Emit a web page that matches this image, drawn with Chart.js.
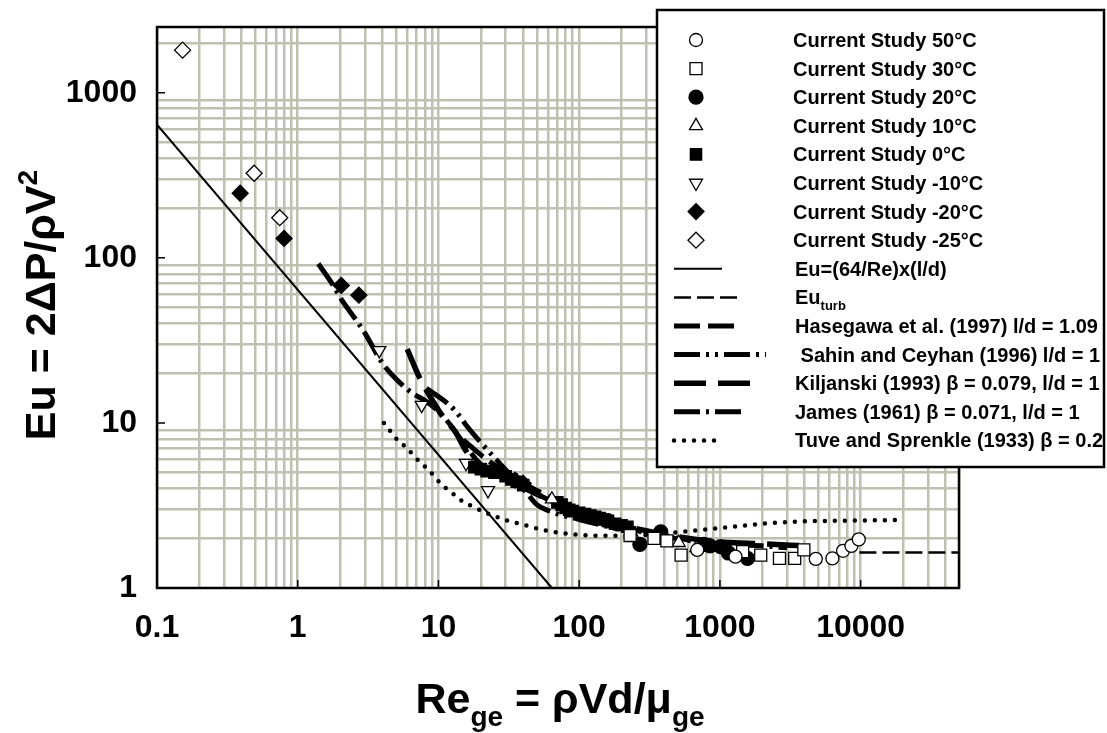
<!DOCTYPE html>
<html>
<head>
<meta charset="utf-8">
<script src="https://cdn.jsdelivr.net/npm/chart.js@4.4.1/dist/chart.umd.min.js"></script>
<style>
  html, body { margin: 0; padding: 0; background: #fff; }
  #wrap { width: 1107px; height: 733px; }
</style>
</head>
<body>
<div id="wrap"><canvas id="myChart" width="1107" height="733"></canvas></div>
<script>
const FONT = "'Liberation Sans', Arial, sans-serif";
const GRID = "#c0c0b2";

// axis tick labels (decades only)
const xTickValues = [0.1, 1, 10, 100, 1000, 10000];
const xTickLabels = ["0.1", "1", "10", "100", "1000", "10000"];
const yTickValues = [1, 10, 100, 1000];
const yTickLabels = ["1", "10", "100", "1000"];

const xTitle = "Re_{ge} = ρVd/μ_{ge}";
const yTitle = "Eu = 2ΔP/ρV^{2}";

// current study, one pair of arrays per temperature
const re50 = [690, 1290, 4800, 6300, 7500, 8600, 9700];
const eu50 = [1.7, 1.55, 1.5, 1.51, 1.68, 1.8, 1.97];
const re30 = [230, 340, 420, 530, 1450, 1950, 2650, 3400, 3950];
const eu30 = [2.08, 2.0, 1.93, 1.58, 1.66, 1.58, 1.51, 1.51, 1.7];
const re20 = [110, 160, 270, 380, 770, 850, 1010, 1150, 1570];
const eu20 = [2.75, 2.55, 1.84, 2.19, 1.84, 1.8, 1.78, 1.63, 1.51];
const re10 = [64, 240, 410, 510, 680];
const eu10 = [3.45, 2.1, 2.0, 1.88, 1.75];
const re0 = [18, 20, 22, 25, 30, 33, 36, 40, 70, 75, 80, 85, 90, 100, 110, 120, 130, 140, 150, 160, 180, 200, 220];
const eu0 = [5.4, 5.25, 5.1, 5.0, 4.75, 4.55, 4.4, 4.2, 3.3, 3.2, 3.05, 2.98, 2.92, 2.85, 2.8, 2.75, 2.7, 2.65, 2.6, 2.55, 2.45, 2.4, 2.35];
const reM10 = [3.8, 7.6, 15.7, 22.5];
const euM10 = [27.5, 12.8, 5.7, 3.9];
const reM20 = [0.39, 0.8, 2.04, 2.72, 35, 40];
const euM20 = [246, 131, 68, 59.4, 4.5, 4.3];
const reM25 = [0.152, 0.49, 0.745];
const euM25 = [1810, 325, 175];

// correlations from the literature
const lamRe = [0.1, 64];
const lamEu = [640, 1];
const turbRe = [9800, 50000];
const turbEu = [1.64, 1.64];
const hasRe = [15, 20, 30, 50, 80, 150, 300, 600];
const hasEu = [7.9, 6.4, 5.0, 3.9, 3.2, 2.6, 2.2, 1.95];
const sahinRe = [8.2, 12, 14, 16, 20, 30, 42, 50, 60, 100, 200];
const sahinEu = [16.2, 12.8, 11.1, 9.5, 7.6, 5.2, 3.8, 3.2, 2.95, 2.6, 2.25];
const kilRe = [6.0, 7.3, 8.7, 11, 13, 16, 20, 30, 50, 100, 200, 500, 1000, 2000, 4000];
const kilEu = [28, 19, 14.5, 10.6, 9.0, 6.6, 5.4, 4.6, 3.7, 2.85, 2.4, 2.05, 1.9, 1.85, 1.8];
const jamesRe = [1.4, 1.75, 2.1, 2.6, 3.0, 4.0, 5.4, 6.5, 8.5, 11, 15, 20, 30, 50, 100, 200, 400, 1000, 2000, 3000];
const jamesEu = [92, 70, 54, 42, 35, 23, 17.3, 15.2, 13.2, 10.8, 7.6, 5.6, 4.6, 3.7, 2.85, 2.35, 2.05, 1.85, 1.8, 1.75];
const tuveRe = [4.1, 4.6, 5.1, 5.9, 6.6, 7.5, 8.5, 9.6, 11, 12.6, 14.4, 17.7, 24, 30, 40, 55, 80, 110, 150, 220, 400, 770, 1230, 2100, 3400, 5600, 9300, 18000];
const tuveEu = [10.0, 8.8, 7.9, 7.1, 6.4, 5.7, 5.2, 4.6, 4.1, 3.74, 3.4, 3.1, 2.76, 2.58, 2.42, 2.25, 2.14, 2.09, 2.07, 2.07, 2.14, 2.26, 2.35, 2.46, 2.52, 2.55, 2.56, 2.58];

const pts = (xs, ys) => xs.map((x, i) => ({ x, y: ys[i] }));

function markerSet(label, xs, ys, style, filled, radius, rotation) {
  return {
    label, data: pts(xs, ys), showLine: false,
    pointStyle: style, pointRadius: radius, pointHoverRadius: radius,
    pointRotation: rotation || 0,
    pointBackgroundColor: filled ? "#000" : "#fff",
    pointBorderColor: "#000", pointBorderWidth: 1.3,
  };
}

function lineSet(label, xs, ys, width, dash, sampleLen, cap) {
  return {
    label, data: pts(xs, ys), showLine: true, fill: false,
    borderColor: "#000", borderWidth: width, borderDash: dash,
    borderCapStyle: cap || "butt", pointRadius: 0, pointHoverRadius: 0,
    cubicInterpolationMode: "monotone", sampleLen,
  };
}

// all 1..9 x 10^n values between min and max, used for the grid
function logTicks(min, max) {
  const out = [];
  for (let e = Math.floor(Math.log10(min)); e <= Math.ceil(Math.log10(max)); e++) {
    for (let m = 1; m <= 9; m++) {
      const v = m * Math.pow(10, e);
      if (v >= min * 0.999 && v <= max * 1.001) out.push(v);
    }
  }
  return out;
}
const isDecade = (v) => Math.abs(Math.log10(v) - Math.round(Math.log10(v))) < 1e-6;
const labelFor = (vals, labels, v) => {
  const i = vals.findIndex((t) => Math.abs(t - v) / t < 1e-6);
  return i >= 0 ? labels[i] : "";
};

// small rich text: _{sub} and ^{sup}
function parseRich(str) {
  const parts = [];
  const re = /([_^])\{([^}]*)\}|([^_^]+)/g;
  let m;
  while ((m = re.exec(str))) {
    if (m[3]) parts.push({ t: m[3], k: "n" });
    else parts.push({ t: m[2], k: m[1] === "_" ? "sub" : "sup" });
  }
  return parts;
}
function drawRich(ctx, str, x, y, size, align) {
  const parts = parseRich(str);
  const fontOf = (p) => `bold ${p.k === "n" ? size : Math.round(size * 0.64)}px ${FONT}`;
  let total = 0;
  parts.forEach((p) => { ctx.font = fontOf(p); p.w = ctx.measureText(p.t).width; total += p.w; });
  let cx = align === "center" ? x - total / 2 : x;
  ctx.textAlign = "left";
  ctx.textBaseline = "alphabetic";
  parts.forEach((p) => {
    ctx.font = fontOf(p);
    const dy = p.k === "sub" ? size * 0.3 : p.k === "sup" ? -size * 0.42 : 0;
    ctx.fillText(p.t, cx, y + dy);
    cx += p.w;
  });
}

function drawMarker(ctx, ds, x, y) {
  ctx.save();
  ctx.fillStyle = ds.pointBackgroundColor;
  ctx.strokeStyle = ds.pointBorderColor;
  ctx.lineWidth = ds.pointBorderWidth;
  if (Chart.helpers && Chart.helpers.drawPoint) {
    Chart.helpers.drawPoint(ctx, {
      pointStyle: ds.pointStyle, radius: ds.pointRadius,
      rotation: ds.pointRotation, borderWidth: ds.pointBorderWidth,
    }, x, y);
  } else {
    ctx.beginPath(); ctx.arc(x, y, ds.pointRadius, 0, Math.PI * 2); ctx.fill(); ctx.stroke();
  }
  ctx.restore();
}

// plot frame + inward decade ticks
const framePlugin = {
  id: "frame",
  afterDatasetsDraw(chart) {
    const { ctx, chartArea: a, scales } = chart;
    ctx.save();
    ctx.strokeStyle = "#000";
    ctx.lineWidth = 2.5;
    ctx.strokeRect(a.left, a.top, a.right - a.left, a.bottom - a.top);
    ctx.lineWidth = 1.5;
    ctx.beginPath();
    xTickValues.forEach((v) => {
      const px = scales.x.getPixelForValue(v);
      ctx.moveTo(px, a.bottom); ctx.lineTo(px, a.bottom - 8);
    });
    yTickValues.forEach((v) => {
      const py = scales.y.getPixelForValue(v);
      ctx.moveTo(a.left, py); ctx.lineTo(a.left + 8, py);
    });
    ctx.stroke();
    ctx.restore();
  },
};

const titlesPlugin = {
  id: "titles",
  afterDraw(chart) {
    const ctx = chart.ctx;
    ctx.save();
    ctx.fillStyle = "#000";
    drawRich(ctx, xTitle, 560, 713, 43, "center");
    ctx.translate(55, 305);
    ctx.rotate(-Math.PI / 2);
    drawRich(ctx, yTitle, 0, 0, 43, "center");
    ctx.restore();
  },
};

const boxLegend = {
  id: "boxLegend",
  afterDraw(chart) {
    const ctx = chart.ctx;
    const box = { left: 657, top: 10, right: 1104, bottom: 467 };
    ctx.save();
    ctx.fillStyle = "#fff";
    ctx.fillRect(box.left, box.top, box.right - box.left, box.bottom - box.top);
    ctx.strokeStyle = "#000";
    ctx.lineWidth = 2.5;
    ctx.strokeRect(box.left, box.top, box.right - box.left, box.bottom - box.top);
    chart.data.datasets.forEach((ds, i) => {
      const y = 40 + i * 28.6;
      if (ds.showLine) {
        ctx.save();
        ctx.strokeStyle = "#000";
        ctx.lineWidth = ds.borderWidth;
        ctx.setLineDash(ds.borderDash || []);
        ctx.lineCap = ds.borderCapStyle || "butt";
        ctx.beginPath();
        ctx.moveTo(674, y);
        ctx.lineTo(674 + ds.sampleLen, y);
        ctx.stroke();
        ctx.restore();
        ctx.fillStyle = "#000";
        drawRich(ctx, ds.label, 795, y + 7, 20, "left");
      } else {
        drawMarker(ctx, ds, 696, y);
        ctx.fillStyle = "#000";
        drawRich(ctx, ds.label, 793, y + 7, 20, "left");
      }
    });
    ctx.restore();
  },
};

const datasets = [
  markerSet("Current Study 50°C", re50, eu50, "circle", false, 6.5),
  markerSet("Current Study 30°C", re30, eu30, "rect", false, 8.5),
  markerSet("Current Study 20°C", re20, eu20, "circle", true, 7),
  markerSet("Current Study 10°C", re10, eu10, "triangle", false, 7.5),
  markerSet("Current Study 0°C", re0, eu0, "rect", true, 8),
  markerSet("Current Study -10°C", reM10, euM10, "triangle", false, 7.5, 180),
  markerSet("Current Study -20°C", reM20, euM20, "rectRot", true, 8),
  markerSet("Current Study -25°C", reM25, euM25, "rectRot", false, 8),
  lineSet("Eu=(64/Re)x(l/d)", lamRe, lamEu, 2, [], 48),
  lineSet("Eu_{turb}", turbRe, turbEu, 2.5, [17, 6], 63),
  lineSet("Hasegawa et al. (1997) l/d = 1.09", hasRe, hasEu, 5, [26, 8], 60),
  lineSet(" Sahin and Ceyhan (1996) l/d = 1", sahinRe, sahinEu, 5, [26, 6, 3, 6, 3, 6], 92),
  lineSet("Kiljanski (1993) β = 0.079, l/d = 1", kilRe, kilEu, 5.5, [32, 12], 76),
  lineSet("James (1961) β = 0.071, l/d = 1", jamesRe, jamesEu, 5, [26, 6, 3, 6], 73),
  lineSet("Tuve and Sprenkle (1933) β = 0.2", tuveRe, tuveEu, 4.5, [0, 10], 43, "round"),
];

const ctx = document.getElementById("myChart").getContext("2d");
new Chart(ctx, {
  type: "scatter",
  data: { datasets },
  options: {
    responsive: false,
    animation: false,
    devicePixelRatio: 1,
    events: [],
    layout: { padding: { left: 0, top: 27, right: 148, bottom: 0 } },
    plugins: { legend: { display: false }, tooltip: { enabled: false } },
    scales: {
      x: {
        type: "logarithmic", min: 0.1, max: 50000, bounds: "data",
        afterBuildTicks: (s) => { s.ticks = logTicks(0.1, 50000).map((v) => ({ value: v })); },
        afterFit: (s) => { s.height = 145; s.paddingLeft = 0; s.paddingRight = 0; },
        grid: { color: GRID, lineWidth: 2.5, drawTicks: false },
        border: { display: false },
        ticks: {
          autoSkip: false, maxRotation: 0, minRotation: 0, padding: 21, color: "#000",
          font: { family: FONT, size: 32, weight: "bold" },
          callback: (v) => labelFor(xTickValues, xTickLabels, v),
        },
      },
      y: {
        type: "logarithmic", min: 1, max: 2500, bounds: "data",
        afterBuildTicks: (s) => { s.ticks = logTicks(1, 2500).map((v) => ({ value: v })); },
        afterFit: (s) => { s.width = 157; s.paddingTop = 0; s.paddingBottom = 0; },
        grid: {
          lineWidth: 2.5, drawTicks: false,
          color: (c) => (c.tick && isDecade(c.tick.value) ? "rgba(0,0,0,0)" : GRID),
        },
        border: { display: false },
        ticks: {
          autoSkip: false, padding: 20, color: "#000",
          font: { family: FONT, size: 32, weight: "bold" },
          callback: (v) => labelFor(yTickValues, yTickLabels, v),
        },
      },
    },
  },
  plugins: [framePlugin, titlesPlugin, boxLegend],
});
</script>
</body>
</html>
